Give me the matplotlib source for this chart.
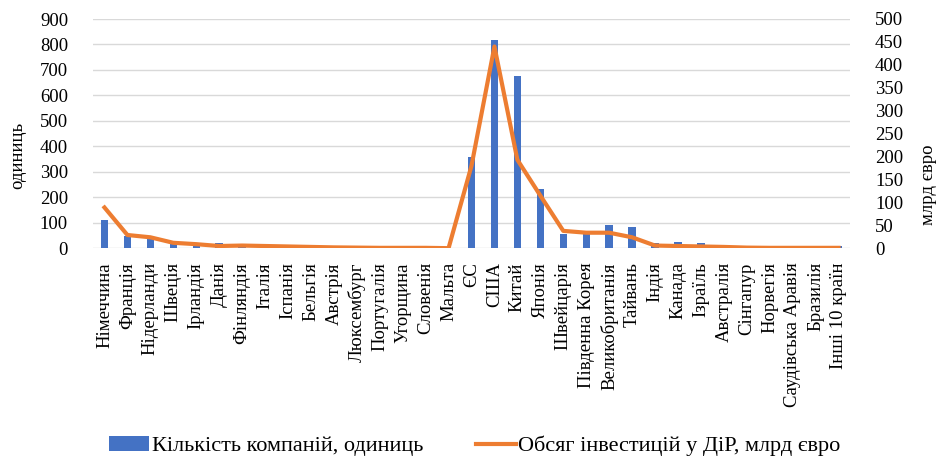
import matplotlib
matplotlib.use("Agg")
import matplotlib.pyplot as plt
import numpy as np

categories = ["Німеччина", "Франція", "Нідерланди", "Швеція", "Ірландія", "Данія",
              "Фінляндія", "Італія", "Іспанія", "Бельгія", "Австрія", "Люксембург",
              "Португалія", "Угорщина", "Словенія", "Мальта", "ЄС", "США", "Китай",
              "Японія", "Швейцарія", "Південна Корея", "Великобританія", "Тайвань",
              "Індія", "Канада", "Ізраїль", "Австралія", "Сінгапур", "Норвегія",
              "Саудівська Аравія", "Бразилія", "Інші 10 країн"]
companies = [110, 50, 43, 22, 19, 21, 8, 5, 4, 6, 4, 2, 2, 1, 1, 1, 360, 819, 676,
             233, 55, 55, 92, 82, 20, 25, 20, 5, 3, 2, 2, 2, 10]
investment = [89, 29, 24, 12, 9, 5, 6, 5, 4, 3, 2, 1.5, 1, 1, 1, 0.3, 180, 440, 193,
              115, 38, 34, 34, 24, 6, 5, 4, 3, 1.5, 1, 1, 1, 1]
left_ticks = list(range(0, 901, 100))
right_ticks = list(range(0, 501, 50))

plt.rcParams['font.family'] = ['Liberation Serif', 'DejaVu Serif']
FS = 13.5

fig = plt.figure(figsize=(9.38, 4.59), dpi=100)
ax1 = fig.add_axes([93/938, 1-248.3/459, (850-93)/938, (248.3-19)/459])
ax2 = ax1.twinx()

x = np.arange(len(categories))
b = ax1.bar(x, companies, width=0.32, color='#4472C4', zorder=2,
            label='Кількість компаній, одиниць')
l, = ax2.plot(x, investment, color='#ED7D31', lw=3, solid_joinstyle='round',
              label='Обсяг інвестицій у ДіР, млрд євро')

ax1.set_xlim(-0.5, len(categories)-0.5)
ax1.set_ylim(0, 900)
ax2.set_ylim(0, 500)
ax1.set_yticks(left_ticks)
ax2.set_yticks(right_ticks)
ax1.set_xticks(x)
ax1.set_xticklabels(categories, rotation=90, fontsize=FS, va='top')

for ax in (ax1, ax2):
    for s in ax.spines.values():
        s.set_visible(False)
    ax.tick_params(axis='both', length=0, labelsize=FS)
ax1.tick_params(axis='y', pad=18)
ax2.tick_params(axis='y', pad=18)
ax1.tick_params(axis='x', pad=10)

ax1.yaxis.grid(True, color='#D9D9D9', lw=1, zorder=0)
ax1.set_axisbelow(True)

fig.text(18/938, 1-155/459, 'одиниць', rotation=90, fontsize=FS, ha='center', va='center')
fig.text(928/938, 1-185/459, 'млрд євро', rotation=90, fontsize=FS, ha='center', va='center')

fig.legend([b, l], [b.get_label(), l.get_label()], loc='center',
           bbox_to_anchor=(475/938, 1-446/459), ncol=2, frameon=False,
           fontsize=16, handlelength=1.8, handletextpad=0.1, columnspacing=2.4)

fig.savefig('out.png', dpi=100)
